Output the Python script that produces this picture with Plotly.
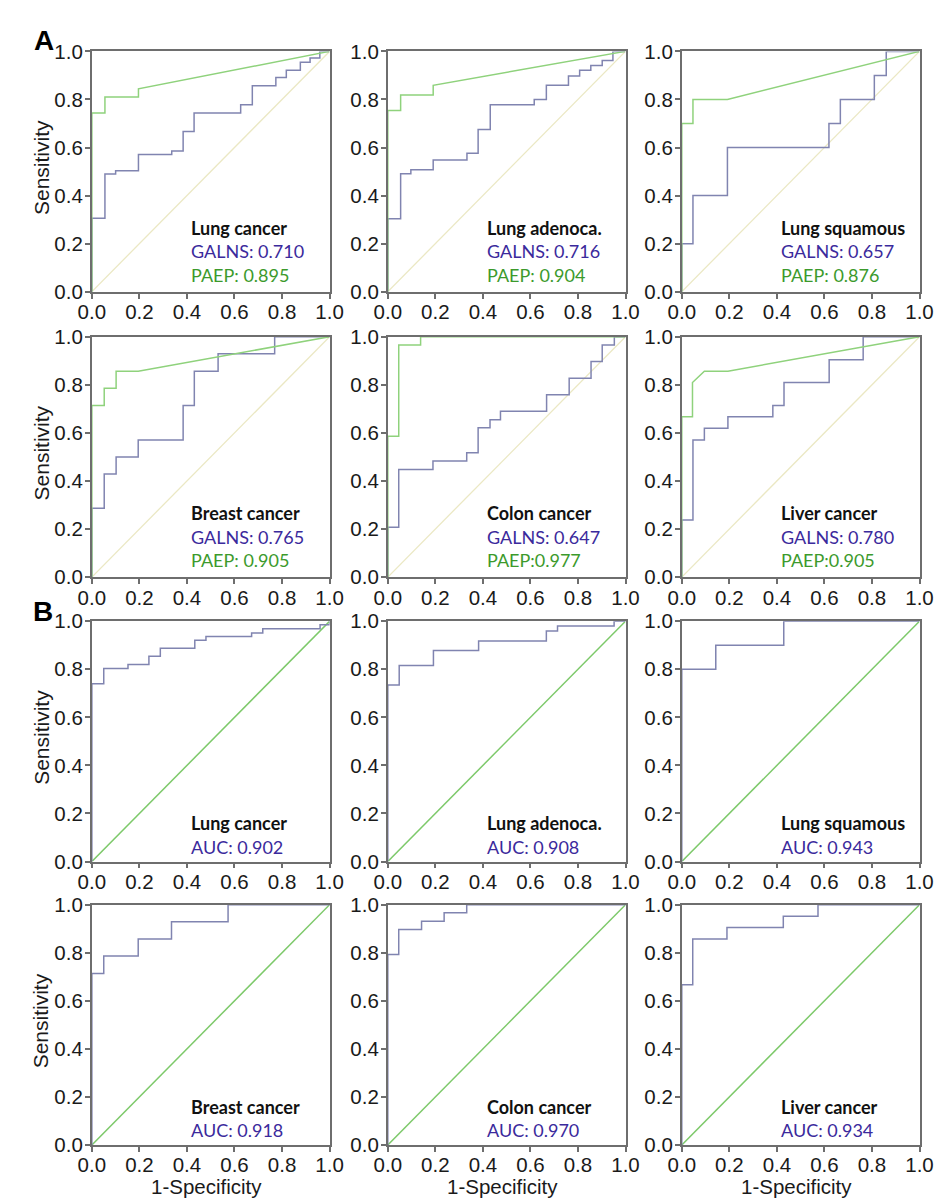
import plotly.graph_objects as go

# ---------------- DATA ----------------
diag = [0.0, 1.0]

# Panel A: GALNS (step ROC) and PAEP curves
lung_galns_fpr = [0, 0, 0.055, 0.10, 0.196, 0.336, 0.384, 0.43, 0.626, 0.675, 0.774, 0.818, 0.877, 0.918, 0.959, 1.0]
lung_galns_tpr = [0, 0.306, 0.49, 0.503, 0.571, 0.585, 0.667, 0.744, 0.778, 0.857, 0.891, 0.922, 0.955, 0.973, 1.0, 1.0]
lung_paep_fpr = [0, 0, 0.055, 0.055, 0.196, 0.196, 1.0]
lung_paep_tpr = [0, 0.744, 0.744, 0.81, 0.81, 0.844, 1.0]

adeno_galns_fpr = [0, 0, 0.054, 0.097, 0.191, 0.333, 0.38, 0.431, 0.616, 0.667, 0.76, 0.807, 0.854, 0.902, 0.947, 1.0]
adeno_galns_tpr = [0, 0.304, 0.491, 0.507, 0.548, 0.576, 0.675, 0.778, 0.80, 0.859, 0.898, 0.921, 0.941, 0.962, 1.0, 1.0]
adeno_paep_fpr = [0, 0, 0.054, 0.054, 0.191, 0.191, 1.0]
adeno_paep_tpr = [0, 0.754, 0.754, 0.819, 0.819, 0.859, 1.0]

squam_galns_fpr = [0, 0, 0.047, 0.192, 0.619, 0.667, 0.81, 0.86, 1.0]
squam_galns_tpr = [0, 0.2, 0.4, 0.6, 0.7, 0.8, 0.9, 1.0, 1.0]
squam_paep_fpr = [0, 0, 0.047, 0.047, 0.192, 1.0]
squam_paep_tpr = [0, 0.70, 0.70, 0.80, 0.80, 1.0]

breast_galns_fpr = [0, 0, 0.052, 0.102, 0.195, 0.384, 0.431, 0.531, 0.769, 1.0]
breast_galns_tpr = [0, 0.286, 0.429, 0.5, 0.571, 0.714, 0.857, 0.929, 1.0, 1.0]
breast_paep_fpr = [0, 0, 0.052, 0.052, 0.102, 0.102, 0.195, 1.0]
breast_paep_tpr = [0, 0.714, 0.714, 0.786, 0.786, 0.857, 0.857, 1.0]

colon_galns_fpr = [0, 0, 0.046, 0.19, 0.332, 0.38, 0.43, 0.474, 0.668, 0.763, 0.855, 0.902, 0.953, 1.0]
colon_galns_tpr = [0, 0.207, 0.448, 0.483, 0.517, 0.621, 0.655, 0.69, 0.759, 0.828, 0.897, 0.966, 1.0, 1.0]
colon_paep_fpr = [0, 0, 0.046, 0.046, 0.138, 0.138, 1.0]
colon_paep_tpr = [0, 0.586, 0.586, 0.966, 0.966, 1.0, 1.0]

liver_galns_fpr = [0, 0, 0.047, 0.095, 0.194, 0.383, 0.43, 0.62, 0.763, 1.0]
liver_galns_tpr = [0, 0.238, 0.571, 0.619, 0.667, 0.714, 0.81, 0.905, 1.0, 1.0]
liver_paep_fpr = [0, 0, 0.045, 0.045, 0.095, 0.194, 1.0]
liver_paep_tpr = [0, 0.667, 0.667, 0.81, 0.857, 0.857, 1.0]

# Panel B: combined ROC
b_lung_fpr = [0, 0, 0.05, 0.152, 0.24, 0.288, 0.433, 0.48, 0.672, 0.719, 0.96, 1.0]
b_lung_tpr = [0, 0.74, 0.803, 0.82, 0.854, 0.888, 0.921, 0.936, 0.951, 0.969, 0.985, 1.0]
b_adeno_fpr = [0, 0, 0.048, 0.192, 0.382, 0.667, 0.714, 0.952, 1.0]
b_adeno_tpr = [0, 0.735, 0.816, 0.878, 0.918, 0.959, 0.98, 1.0, 1.0]
b_squam_fpr = [0, 0, 0.143, 0.429, 1.0]
b_squam_tpr = [0, 0.8, 0.9, 1.0, 1.0]
b_breast_fpr = [0, 0, 0.05, 0.195, 0.335, 0.573, 1.0]
b_breast_tpr = [0, 0.714, 0.786, 0.857, 0.929, 1.0, 1.0]
b_colon_fpr = [0, 0, 0.046, 0.142, 0.237, 0.332, 1.0]
b_colon_tpr = [0, 0.793, 0.897, 0.931, 0.966, 1.0, 1.0]
b_liver_fpr = [0, 0, 0.046, 0.19, 0.427, 0.573, 1.0]
b_liver_tpr = [0, 0.667, 0.857, 0.905, 0.952, 1.0, 1.0]

cancer_names = ["Lung cancer", "Lung adenoca.", "Lung squamous",
                "Breast cancer", "Colon cancer", "Liver cancer"]
galns_labels = ["GALNS: 0.710", "GALNS: 0.716", "GALNS: 0.657",
                "GALNS: 0.765", "GALNS: 0.647", "GALNS: 0.780"]
paep_labels = ["PAEP: 0.895", "PAEP: 0.904", "PAEP: 0.876",
               "PAEP: 0.905", "PAEP:0.977", "PAEP:0.905"]
auc_labels = ["AUC: 0.902", "AUC: 0.908", "AUC: 0.943",
              "AUC: 0.918", "AUC: 0.970", "AUC: 0.934"]
tick_values = [0.0, 0.2, 0.4, 0.6, 0.8, 1.0]

a_galns = [(lung_galns_fpr, lung_galns_tpr), (adeno_galns_fpr, adeno_galns_tpr),
           (squam_galns_fpr, squam_galns_tpr), (breast_galns_fpr, breast_galns_tpr),
           (colon_galns_fpr, colon_galns_tpr), (liver_galns_fpr, liver_galns_tpr)]
a_paep = [(lung_paep_fpr, lung_paep_tpr), (adeno_paep_fpr, adeno_paep_tpr),
          (squam_paep_fpr, squam_paep_tpr), (breast_paep_fpr, breast_paep_tpr),
          (colon_paep_fpr, colon_paep_tpr), (liver_paep_fpr, liver_paep_tpr)]
b_curves = [(b_lung_fpr, b_lung_tpr), (b_adeno_fpr, b_adeno_tpr),
            (b_squam_fpr, b_squam_tpr), (b_breast_fpr, b_breast_tpr),
            (b_colon_fpr, b_colon_tpr), (b_liver_fpr, b_liver_tpr)]

# ---------------- STYLE ----------------
W, H = 942, 1199
col_px = [(72, 317), (377, 622), (680, 925)]
row_px = [(32, 277), (323, 568), (613, 858), (902, 1147)]

C_GALNS_LINE = "#8084b0"
C_PAEP_LINE = "#8fd27c"
C_DIAG_A = "#ebe8c4"
C_DIAG_B = "#7dc96a"
C_GALNS_TXT = "#3b2a9c"
C_PAEP_TXT = "#3c9a2c"
AX_COLOR = "#6e6e6e"
ARIAL = "Liberation Sans, Arial, sans-serif"
TICK_FONT = dict(family=ARIAL, size=20.5, color="#1a1a1a")
ANN_FONT = "Lato, Carlito, sans-serif"

fig = go.Figure()
annotations = []
layout_axes = {}

for k in range(12):
    r, c = divmod(k, 3)
    idx = k + 1
    xs = "" if idx == 1 else str(idx)
    xref, yref = "x" + xs, "y" + xs
    x0, x1 = col_px[c]
    ytop, ybot = row_px[r]
    common = dict(range=[0, 1], showline=True, linecolor=AX_COLOR, linewidth=1.8,
                  mirror=True, ticks="outside", ticklen=5, tickwidth=1.5,
                  tickcolor=AX_COLOR, tickvals=tick_values, tickformat=".1f",
                  tickfont=TICK_FONT, showgrid=False, zeroline=False)
    layout_axes["xaxis" + xs] = dict(common, domain=[x0 / W, x1 / W], anchor=yref,
                                     ticklabelstandoff=-4)
    layout_axes["yaxis" + xs] = dict(common, domain=[1 - ybot / H, 1 - ytop / H], anchor=xref,
                                     ticklabelstandoff=-2)

    p = k % 6
    if r < 2:
        fig.add_trace(go.Scatter(x=diag, y=diag, mode="lines", xaxis=xref, yaxis=yref,
                                 line=dict(color=C_DIAG_A, width=1.3), showlegend=False))
        gx, gy = a_galns[p]
        fig.add_trace(go.Scatter(x=gx, y=gy, mode="lines", xaxis=xref, yaxis=yref,
                                 line=dict(color=C_GALNS_LINE, width=1.5, shape="hv"),
                                 showlegend=False))
        px_, py_ = a_paep[p]
        fig.add_trace(go.Scatter(x=px_, y=py_, mode="lines", xaxis=xref, yaxis=yref,
                                 line=dict(color=C_PAEP_LINE, width=1.5),
                                 showlegend=False))
        lines = [(cancer_names[p], "#111111", True, 0.265),
                 (galns_labels[p], C_GALNS_TXT, False, 0.168),
                 (paep_labels[p], C_PAEP_TXT, False, 0.071)]
    else:
        fig.add_trace(go.Scatter(x=diag, y=diag, mode="lines", xaxis=xref, yaxis=yref,
                                 line=dict(color=C_DIAG_B, width=1.5), showlegend=False))
        bx, by = b_curves[p]
        fig.add_trace(go.Scatter(x=bx, y=by, mode="lines", xaxis=xref, yaxis=yref,
                                 line=dict(color=C_GALNS_LINE, width=1.5, shape="hv"),
                                 showlegend=False))
        lines = [(cancer_names[p], "#111111", True, 0.16),
                 (auc_labels[p], C_GALNS_TXT, False, 0.062)]
    for txt, col, bold, yy in lines:
        annotations.append(dict(
            x=0.41, y=yy, xref=xref, yref=yref, xanchor="left", yanchor="middle",
            text=("<b>%s</b>" % txt) if bold else txt, showarrow=False,
            font=dict(family=ANN_FONT, size=18, color=col)))

    if c == 0:
        annotations.append(dict(
            x=20 / W, y=1 - ((ytop + ybot) / 2 - 4) / H, xref="paper", yref="paper",
            text="Sensitivity", textangle=-90, showarrow=False,
            xanchor="center", yanchor="middle",
            font=dict(family=ARIAL, size=21, color="#1a1a1a")))
    if r == 3:
        annotations.append(dict(
            x=((x0 + x1) / 2 - 4) / W, y=0, xref="paper", yref="paper",
            text="1-Specificity", showarrow=False, xanchor="center", yanchor="bottom",
            borderpad=0, yshift=-3,
            font=dict(family=ARIAL, size=20.5, color="#1a1a1a")))

for letter, lx, ly in [("A", 23, 21), ("B", 22, 603)]:
    annotations.append(dict(
        x=lx / W, y=1 - ly / H, xref="paper", yref="paper", text="<b>%s</b>" % letter,
        showarrow=False, xanchor="center", yanchor="middle",
        font=dict(family=ARIAL, size=28, color="#000")))

fig.update_layout(width=W, height=H, margin=dict(l=0, r=0, t=0, b=0),
                  paper_bgcolor="white", plot_bgcolor="white",
                  annotations=annotations, showlegend=False, **layout_axes)

fig.write_html("out.html")
